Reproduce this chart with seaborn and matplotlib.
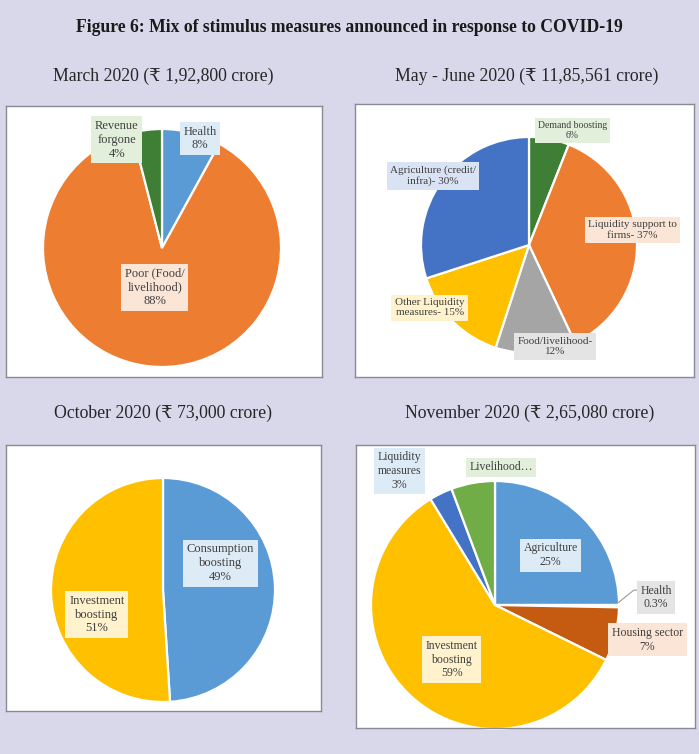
import matplotlib
matplotlib.use("Agg")
import matplotlib.pyplot as plt
import seaborn as sns

sns.set_theme(style="white")
plt.rcParams["font.family"] = ["Liberation Serif", "DejaVu Serif", "DejaVu Sans"]

# ---- data -------------------------------------------------------------
title = "Figure 6: Mix of stimulus measures announced in response to COVID-19"

mar_title = "March 2020 (\u20b9 1,92,800 crore)"
mar_labels = ["Health", "Poor (Food/\nlivelihood)", "Revenue\nforgone"]
mar_values = [8, 88, 4]

may_title = "May - June 2020 (\u20b9 11,85,561 crore)"
may_labels = ["Demand boosting", "Liquidity support to\nfirms-", "Food/livelihood-",
              "Other Liquidity\nmeasures-", "Agriculture (credit/\ninfra)-"]
may_values = [6, 37, 12, 15, 30]

oct_title = "October 2020 (\u20b9 73,000 crore)"
oct_labels = ["Consumption\nboosting", "Investment\nboosting"]
oct_values = [49, 51]

nov_title = "November 2020 (\u20b9 2,65,080 crore)"
nov_labels = ["Agriculture", "Health", "Housing sector", "Investment\nboosting",
              "Liquidity\nmeasures", "Livelihood\u2026"]
nov_values = [25, 0.3, 7, 59, 3, 5.7]

# ---- styling ----------------------------------------------------------
BG = "#d9d7ea"
C_ORANGE, C_BLUE, C_GOLD = "#ed7d31", "#5b9bd5", "#ffc000"
C_GRAY, C_DBLUE, C_GREEN = "#a5a5a5", "#4472c4", "#70ad47"
C_DGREEN, C_RUST = "#3e7f35", "#c55a11"
T_ORANGE, T_BLUE, T_GOLD = "#fbe5d6", "#ddebf7", "#fff2cc"
T_GRAY, T_DBLUE, T_GREEN = "#e4e4e4", "#dae3f3", "#e2efda"

W, H = 699, 754
fig = plt.figure(figsize=(W / 100, H / 100), dpi=100, facecolor=BG)


def panel(rect, center, radius):
    """Axes covering a panel rectangle (pixels, top-left origin),
    scaled so the pie has radius 1 around the given pixel centre."""
    x0, y0, x1, y1 = rect
    ax = fig.add_axes([x0 / W, 1 - y1 / H, (x1 - x0) / W, (y1 - y0) / H])
    ax.set_facecolor("white")
    cx, cy = center
    lims = ((x0 - cx) / radius, (x1 - cx) / radius,
            (cy - y1) / radius, (cy - y0) / radius)
    return ax, lims


def finish(ax, lims):
    ax.set_aspect("auto")
    ax.set_xlim(lims[0], lims[1])
    ax.set_ylim(lims[2], lims[3])
    ax.set_xticks([])
    ax.set_yticks([])
    for s in ax.spines.values():
        s.set_visible(True)
        s.set_color("#8a8a96")
        s.set_linewidth(1.0)


def draw_pie(ax, values, colors):
    ax.pie(values, colors=colors, startangle=90, counterclock=False,
           radius=1, center=(0, 0), frame=True,
           wedgeprops=dict(edgecolor="white", linewidth=1.6))


def tag(ax, xy, text, fc, size=8.5):
    ax.text(xy[0], xy[1], text, ha="center", va="center", fontsize=size,
            color="#404040", linespacing=1.2, zorder=5,
            bbox=dict(boxstyle="square,pad=0.3", fc=fc, ec="none"))


def pct(v):
    return f"{v:g}%"


# title and panel headings
fig.text(0.5, 1 - 28 / H, title, ha="center", va="center",
         fontsize=12.7, fontweight="bold", color="#1a1a1a")
for txt, x, y in [(mar_title, 163, 76), (may_title, 527, 76),
                  (oct_title, 163, 413), (nov_title, 530, 413)]:
    fig.text(x / W, 1 - y / H, txt, ha="center", va="center",
             fontsize=12.8, color="#262626")

# March 2020
ax, lims = panel((6, 106, 322, 377), (162, 248), 119)
draw_pie(ax, mar_values, [C_BLUE, C_ORANGE, C_DGREEN])
tag(ax, (0.32, 0.92), f"{mar_labels[0]}\n{pct(mar_values[0])}", T_BLUE, 9)
tag(ax, (-0.06, -0.33), f"{mar_labels[1]}\n{pct(mar_values[1])}", T_ORANGE, 9)
tag(ax, (-0.38, 0.91), f"{mar_labels[2]}\n{pct(mar_values[2])}", T_GREEN, 9)
finish(ax, lims)

# May - June 2020
ax, lims = panel((355, 104, 694, 377), (529, 245), 108)
draw_pie(ax, may_values, [C_DGREEN, C_ORANGE, C_GRAY, C_GOLD, C_DBLUE])
tag(ax, (0.40, 1.06), f"{may_labels[0]}\n{pct(may_values[0])}", T_GREEN, 7)
tag(ax, (0.96, 0.14), f"{may_labels[1]} {pct(may_values[1])}", T_ORANGE, 8)
tag(ax, (0.24, -0.94), f"{may_labels[2]}\n{pct(may_values[2])}", T_GRAY, 8)
tag(ax, (-0.92, -0.58), f"{may_labels[3]} {pct(may_values[3])}", T_GOLD, 8)
tag(ax, (-0.89, 0.64), f"{may_labels[4]} {pct(may_values[4])}", T_DBLUE, 8)
finish(ax, lims)

# October 2020
ax, lims = panel((6, 445, 321, 711), (163, 590), 112)
draw_pie(ax, oct_values, [C_BLUE, C_GOLD])
tag(ax, (0.51, 0.24), f"{oct_labels[0]}\n{pct(oct_values[0])}", T_BLUE, 9)
tag(ax, (-0.59, -0.22), f"{oct_labels[1]}\n{pct(oct_values[1])}", T_GOLD, 9)
finish(ax, lims)

# November 2020
ax, lims = panel((356, 445, 695, 728), (495, 605), 124)
draw_pie(ax, nov_values, [C_BLUE, C_GRAY, C_RUST, C_GOLD, C_DBLUE, C_GREEN])
tag(ax, (0.45, 0.40), f"{nov_labels[0]}\n{pct(nov_values[0])}", T_BLUE, 8.5)
ax.plot([0.995, 1.12, 1.16], [0.02, 0.12, 0.12], color="#9a9a9a", lw=0.8)
tag(ax, (1.30, 0.06), f"{nov_labels[1]}\n{pct(nov_values[1])}", T_GRAY, 8.5)
tag(ax, (1.23, -0.28), f"{nov_labels[2]}\n{pct(nov_values[2])}", T_ORANGE, 8.5)
tag(ax, (-0.35, -0.44), f"{nov_labels[3]}\n{pct(nov_values[3])}", T_GOLD, 8.5)
tag(ax, (-0.77, 1.08), f"{nov_labels[4]}\n{pct(nov_values[4])}", T_BLUE, 8.5)
tag(ax, (0.05, 1.11), nov_labels[5], T_GREEN, 8.5)
finish(ax, lims)

fig.savefig("out.png", dpi=100, facecolor=BG)
